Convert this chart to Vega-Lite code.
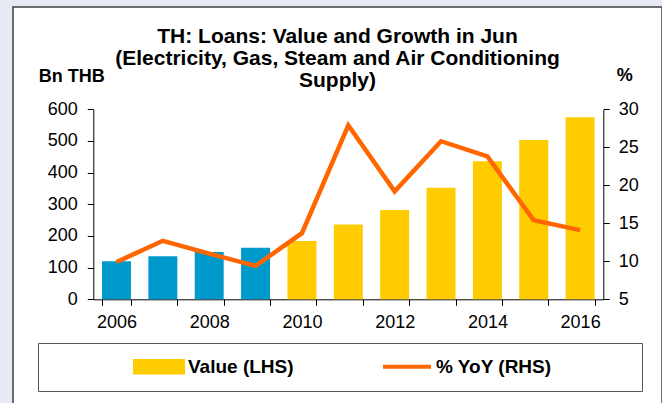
{
  "$schema": "https://vega.github.io/schema/vega-lite/v6.json",
  "width": 649,
  "height": 400,
  "autosize": {"type": "none"},
  "padding": {"left": 13, "top": 7, "right": 0, "bottom": 0},
  "background": "#E7EAF2",
  "config": {
    "view": {"stroke": "#404040", "strokeWidth": 1.5, "fill": "white"},
    "font": "Liberation Sans",
    "axis": {
      "labelFont": "Liberation Sans",
      "labelFontSize": 18,
      "labelColor": "black",
      "domainColor": "black",
      "tickColor": "black",
      "tickSize": 6,
      "grid": false,
      "titleFont": "Liberation Sans",
      "titleFontSize": 18,
      "titleFontWeight": "bold",
      "titleColor": "black"
    }
  },
  "title": {
    "text": ["TH: Loans: Value and Growth in Jun", "(Electricity, Gas, Steam and Air Conditioning", "Supply)"],
    "font": "Liberation Sans",
    "fontSize": 21,
    "fontWeight": "bold",
    "color": "black",
    "lineHeight": 22,
    "anchor": "middle",
    "frame": "group",
    "baseline": "top",
    "offset": -84
  },
  "data": {
    "values": [
      {"year": 2006, "value": 120, "yoy": 9.9},
      {"year": 2007, "value": 136, "yoy": 12.7},
      {"year": 2008, "value": 149, "yoy": 11.0},
      {"year": 2009, "value": 163, "yoy": 9.4},
      {"year": 2010, "value": 184, "yoy": 13.7},
      {"year": 2011, "value": 236, "yoy": 27.9},
      {"year": 2012, "value": 282, "yoy": 19.2},
      {"year": 2013, "value": 352, "yoy": 25.8},
      {"year": 2014, "value": 436, "yoy": 23.8},
      {"year": 2015, "value": 503, "yoy": 15.4},
      {"year": 2016, "value": 575, "yoy": 14.1}
    ]
  },
  "layer": [
    {
      "mark": {"type": "bar"},
      "encoding": {
        "x": {
          "field": "year",
          "type": "ordinal",
          "scale": {"range": [80.3, 590.3], "paddingInner": 0.375, "paddingOuter": 0.1875},
          "axis": {
            "title": null,
            "labelAngle": 0,
            "labelExpr": "datum.value % 2 == 0 ? datum.label : ''",
            "labelOverlap": false,
            "tickBand": "extent",
            "offset": -107.7,
            "labelPadding": 8
          }
        },
        "y": {
          "field": "value",
          "type": "quantitative",
          "scale": {"domain": [0, 600], "range": [292.3, 102.3], "nice": false},
          "axis": {
            "title": "Bn THB",
            "titleAngle": 0,
            "titleX": -22,
            "titleY": 69,
            "titleAlign": "center",
            "titleBaseline": "middle",
            "offset": -80.3,
            "values": [0, 100, 200, 300, 400, 500, 600],
            "labelPadding": 10
          }
        },
        "color": {
          "condition": {"test": "datum.year < 2010", "value": "#0099CC"},
          "datum": "Value (LHS)",
          "type": "nominal",
          "scale": {"domain": ["Value (LHS)", "% YoY (RHS)"], "range": ["#FFCC00", "#FF6600"]},
          "legend": {
            "orient": "none",
            "legendX": 25,
            "legendY": 336,
            "direction": "horizontal",
            "title": "\u00a0",
            "titleOrient": "right",
            "titlePadding": 76,
            "padding": 14,
            "strokeColor": "#555555",
            "clipHeight": 19,
            "symbolOffset": 81,
            "labelOffset": 3,
            "columnPadding": 6,
            "labelFont": "Liberation Sans",
            "labelFontSize": 19,
            "labelFontWeight": "bold",
            "labelColor": "black",
            "symbolSize": 2304,
            "symbolStrokeWidth": 4,
            "encode": {
              "symbols": {
                "update": {
                  "shape": {"signal": "datum.value === 'Value (LHS)' ? 'M-1,-0.24H1V0.24H-1Z' : 'stroke'"},
                  "fill": {"signal": "datum.value === 'Value (LHS)' ? '#FFCC00' : 'transparent'"},
                  "stroke": {"signal": "datum.value === 'Value (LHS)' ? 'transparent' : '#FF6600'"},
                  "strokeWidth": {"value": 4},
                  "opacity": {"value": 1}
                }
              }
            }
          }
        }
      }
    },
    {
      "mark": {"type": "line", "strokeWidth": 4.5},
      "encoding": {
        "x": {"field": "year", "type": "ordinal"},
        "y": {
          "field": "yoy",
          "type": "quantitative",
          "scale": {"domain": [5, 30], "range": [292.3, 102.3], "nice": false, "zero": false},
          "axis": {
            "orient": "right",
            "title": "%",
            "titleAngle": 0,
            "titleX": 21,
            "titleY": 68,
            "titleAlign": "center",
            "titleBaseline": "middle",
            "offset": -58.7,
            "values": [5, 10, 15, 20, 25, 30],
            "labelPadding": 9
          }
        },
        "color": {"datum": "% YoY (RHS)", "type": "nominal"}
      }
    }
  ],
  "resolve": {"scale": {"y": "independent"}}
}
